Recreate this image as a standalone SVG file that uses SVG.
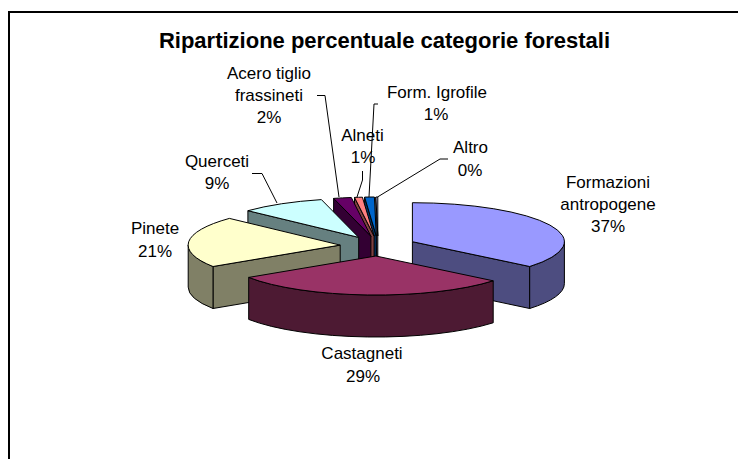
<svg xmlns="http://www.w3.org/2000/svg" width="738" height="459" viewBox="0 0 738 459">
<style>
text{font-family:"Liberation Sans",Arial,sans-serif;font-size:17px;fill:#000;text-anchor:middle}
.title{font-size:22px;font-weight:bold}
.e{stroke:#000;stroke-width:1;stroke-linejoin:round}
.lead{fill:none;stroke:#000;stroke-width:1}
</style>
<rect x="0" y="0" width="738" height="459" fill="#fff"/>
<rect x="9" y="12" width="800" height="500" fill="#fff" stroke="#000" stroke-width="2"/>
<text class="title" x="384.5" y="47.5">Ripartizione percentuale categorie forestali</text>

<g id="altro">
<path class="e" fill="#666680" d="M377.8,236 L375.9,197 L375.9,239 L377.8,278 Z"/>
<path class="e" fill="#CCCCFF" d="M377.8,236 L375.9,197 L377.8,197 Z"/>
</g>
<g id="form-igrofile">
<path class="e" fill="#003366" d="M376.3,236 L364.6,197.1 L364.6,239.1 L376.3,278 Z"/>
<path class="e" fill="#0066CC" d="M376.3,236 L364.6,197.1 A152,39 0 0 1 374.4,197 Z"/>
</g>
<g id="alneti">
<path class="e" fill="#804040" d="M374.1,236.1 L354.5,197.4 L354.5,239.4 L374.1,278.1 Z"/>
<path class="e" fill="#FF8080" d="M374.1,236.1 L354.5,197.4 A152,39 0 0 1 362.4,197.2 Z"/>
</g>
<g id="acero">
<path class="e" fill="#330033" d="M370.9,236.2 L333.6,198.4 L333.6,240.4 L370.9,278.2 Z"/>
<path class="e" fill="#660066" d="M370.9,236.2 L333.6,198.4 A152,39 0 0 1 351.3,197.5 Z"/>
</g>
<g id="querceti">
<path class="e" fill="#668080" d="M358.7,237.4 L247.9,210.7 L247.9,252.7 L358.7,279.4 Z"/>
<path class="e" fill="#CCFFFF" d="M358.7,237.4 L247.9,210.7 A152,39 0 0 1 321.4,199.6 Z"/>
</g>
<g id="formazioni">
<path class="e" fill="#4D4D80" d="M412.4,241.7 L529.7,266.5 L529.7,308.5 L412.4,283.7 Z"/>
<path class="e" fill="#4D4D80" d="M564.4,241.7 A152,39 0 0 1 529.7,266.5 L529.7,308.5 A152,39 0 0 0 564.4,283.7 Z"/>
<path class="e" fill="#9999FF" d="M412.4,241.7 L412.4,202.7 A152,39 0 0 1 529.7,266.5 Z"/>
</g>
<g id="pinete">
<path class="e" fill="#808066" d="M340.2,245.1 L213,266.5 L213,308.5 L340.2,287.1 Z"/>
<path class="e" fill="#808066" d="M213,266.5 A152,39 0 0 1 188.2,245.1 L188.2,287.1 A152,39 0 0 0 213,308.5 Z"/>
<path class="e" fill="#FFFFCC" d="M340.2,245.1 L213,266.5 A152,39 0 0 1 229.4,218.4 Z"/>
</g>
<g id="castagneti">
<path class="e" fill="#4D1A33" d="M493.2,280.8 A152,39 0 0 1 248.7,277.4 L248.7,319.4 A152,39 0 0 0 493.2,322.8 Z"/>
<path class="e" fill="#993366" d="M375.9,256 L493.2,280.8 A152,39 0 0 1 248.7,277.4 Z"/>
</g>

<g id="connectors">
<polyline class="lead" points="317,95.5 325,95.5 339,197"/>
<polyline class="lead" points="362.5,171 362.5,180 357,197"/>
<polyline class="lead" points="378,104 374,104 369,197"/>
<polyline class="lead" points="448,159 440,159 377.5,197"/>
<polyline class="lead" points="252,173.5 262,173.5 277,203"/>
</g>

<g id="labels">
<text x="269" y="79">Acero tiglio</text>
<text x="269" y="101">frassineti</text>
<text x="269" y="123">2%</text>
<text x="437" y="98">Form. Igrofile</text>
<text x="436" y="120">1%</text>
<text x="362.5" y="140.5">Alneti</text>
<text x="363" y="162.5">1%</text>
<text x="470.5" y="153">Altro</text>
<text x="470" y="175.5">0%</text>
<text x="217" y="167">Querceti</text>
<text x="217" y="189">9%</text>
<text x="155" y="234">Pinete</text>
<text x="155" y="257">21%</text>
<text x="608" y="187.5">Formazioni</text>
<text x="608" y="209.5">antropogene</text>
<text x="608" y="231.5">37%</text>
<text x="362" y="359">Castagneti</text>
<text x="363" y="382">29%</text>
</g>
</svg>
